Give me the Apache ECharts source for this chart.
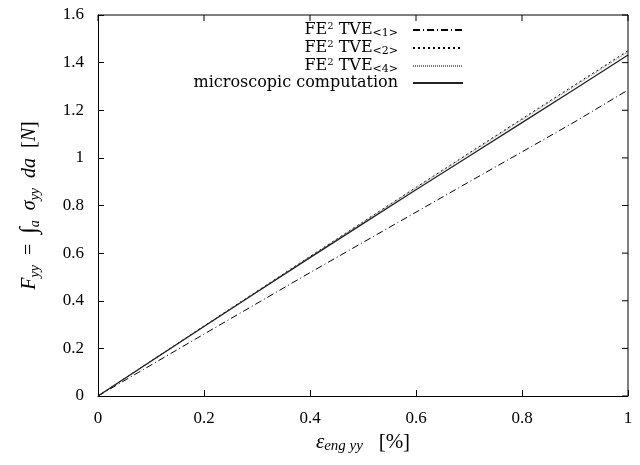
<!DOCTYPE html>
<html>
<head>
<meta charset="utf-8">
<script src="https://cdn.jsdelivr.net/npm/echarts@6/dist/echarts.min.js"></script>
<style>
  html, body { margin: 0; padding: 0; background: #fff; }
  #root { width: 640px; height: 465px; }
</style>
</head>
<body>
<div id="root"></div>
<script>
// strain [%]
const strain = [0, 0.1, 0.2, 0.3, 0.4, 0.5, 0.6, 0.7, 0.8, 0.9, 1.0];
// force [N]
const tve1 = [0, 0.130, 0.260, 0.389, 0.518, 0.645, 0.772, 0.899, 1.025, 1.152, 1.285];
const tve2 = [0, 0.147, 0.294, 0.440, 0.586, 0.731, 0.876, 1.020, 1.164, 1.307, 1.450];
const tve4 = [0, 0.147, 0.293, 0.439, 0.585, 0.730, 0.874, 1.017, 1.160, 1.302, 1.445];
const micro = [0, 0.146, 0.292, 0.437, 0.581, 0.724, 0.866, 1.007, 1.148, 1.289, 1.432];
const xTicks = [0, 0.2, 0.4, 0.6, 0.8, 1];
const yTicks = [0, 0.2, 0.4, 0.6, 0.8, 1, 1.2, 1.4, 1.6];

const serif = '"Liberation Serif", "DejaVu Serif", serif';
const wide = '"DejaVu Serif", "Liberation Serif", serif';

const pairs = ys => strain.map((x, i) => [x, ys[i]]);
const tickFmt = v => String(+v.toFixed(1));

const legendRich = {
  n: { fontFamily: wide, fontSize: 16, color: '#000', lineHeight: 18 },
  sup: { fontFamily: wide, fontSize: 10, color: '#000', verticalAlign: 'top', lineHeight: 10 },
  sub: { fontFamily: wide, fontSize: 11, color: '#000', verticalAlign: 'bottom', lineHeight: 11 }
};

const legendName = {
  'TVE1': '{n|FE}{sup|2}{n| TVE}{sub|<1>}',
  'TVE2': '{n|FE}{sup|2}{n| TVE}{sub|<2>}',
  'TVE4': '{n|FE}{sup|2}{n| TVE}{sub|<4>}',
  'micro': '{n|microscopic computation}'
};

// closed frame with mirrored inward ticks, placed through the axes' scales
const renderFrame = (params, api) => {
  const xMin = xTicks[0], xMax = xTicks[xTicks.length - 1];
  const yMin = yTicks[0], yMax = yTicks[yTicks.length - 1];
  const lo = api.coord([xMin, yMin]);
  const hi = api.coord([xMax, yMax]);
  const stroke = { stroke: '#000', lineWidth: 1, fill: null };
  const children = [{
    type: 'polyline',
    shape: { points: [[lo[0], hi[1]], [hi[0], hi[1]], [hi[0], lo[1]]] },
    style: stroke
  }];
  xTicks.forEach(t => {
    const p = api.coord([t, yMax]);
    children.push({ type: 'line', shape: { x1: p[0], y1: p[1], x2: p[0], y2: p[1] + 6 }, style: stroke });
  });
  yTicks.forEach(t => {
    const p = api.coord([xMax, t]);
    children.push({ type: 'line', shape: { x1: p[0], y1: p[1], x2: p[0] - 6, y2: p[1] }, style: stroke });
  });
  return { type: 'group', children };
};

const chart = echarts.init(document.getElementById('root'));
chart.setOption({
  animation: false,
  grid: { left: 98, right: 12, top: 15, bottom: 69 },
  legend: {
    top: 16,
    right: 171,
    orient: 'vertical',
    align: 'right',
    itemWidth: 50,
    itemHeight: 10,
    itemGap: 0,
    data: ['TVE1', 'TVE2', 'TVE4', 'micro'],
    formatter: name => legendName[name],
    itemStyle: { color: 'rgba(0,0,0,0)', borderWidth: 0, opacity: 0 },
    textStyle: { rich: legendRich, padding: [0, 10, 0, 0] }
  },
  xAxis: {
    type: 'value', min: 0, max: 1, interval: 0.2,
    name: '{e|ε}{s|eng}{t| yy}{n|   [%]}',
    nameLocation: 'middle', nameGap: 35,
    nameTextStyle: {
      rich: {
        e: { fontFamily: serif, fontStyle: 'italic', fontSize: 21, color: '#000', lineHeight: 22 },
        s: { fontFamily: serif, fontStyle: 'italic', fontSize: 15, color: '#000', verticalAlign: 'bottom', lineHeight: 15 },
        t: { fontFamily: serif, fontStyle: 'italic', fontSize: 15, color: '#000', verticalAlign: 'bottom', lineHeight: 15, padding: [4, 0, 0, 0] },
        n: { fontFamily: serif, fontSize: 21, color: '#000', lineHeight: 22 }
      }
    },
    axisLine: { onZero: false, lineStyle: { color: '#000', width: 1 } },
    axisTick: { inside: true, length: 6, lineStyle: { color: '#000' } },
    axisLabel: { margin: 14, fontFamily: serif, fontSize: 17, color: '#000', formatter: tickFmt },
    splitLine: { show: false }
  },
  yAxis: {
    type: 'value', min: 0, max: 1.6, interval: 0.2,
    name: '{f|F}{s|yy}{n|  =  }{i|∫}{s|a}{g|  σ}{s|yy}{f|  da}{n|  [}{f|N}{n|]}',
    nameLocation: 'middle', nameGap: 56,
    nameRotate: 90,
    nameTextStyle: {
      rich: {
        f: { fontFamily: serif, fontStyle: 'italic', fontSize: 20, color: '#000', lineHeight: 24 },
        g: { fontFamily: serif, fontStyle: 'italic', fontSize: 20, color: '#000', lineHeight: 24 },
        n: { fontFamily: serif, fontSize: 20, color: '#000', lineHeight: 24 },
        i: { fontFamily: serif, fontSize: 24, color: '#000', lineHeight: 24 },
        s: { fontFamily: serif, fontStyle: 'italic', fontSize: 14, color: '#000', verticalAlign: 'bottom', lineHeight: 14 }
      }
    },
    axisLine: { onZero: false, lineStyle: { color: '#000', width: 1 } },
    axisTick: { inside: true, length: 6, lineStyle: { color: '#000' } },
    axisLabel: { margin: 14, fontFamily: serif, fontSize: 17, color: '#000', formatter: tickFmt },
    splitLine: { show: false }
  },
  series: [
    {
      name: 'TVE1', type: 'line', data: pairs(tve1), showSymbol: false, symbol: 'none',
      lineStyle: { color: '#000', width: 1, type: [7, 3, 1, 3] }, itemStyle: { color: '#000' }
    },
    {
      name: 'TVE2', type: 'line', data: pairs(tve2), showSymbol: false, symbol: 'none',
      lineStyle: { color: '#000', width: 1, type: [2, 3] }, itemStyle: { color: '#000' }
    },
    {
      name: 'TVE4', type: 'line', data: pairs(tve4), showSymbol: false, symbol: 'none',
      lineStyle: { color: '#777', width: 1, type: [1, 1] }, itemStyle: { color: '#777' }
    },
    {
      name: 'micro', type: 'line', data: pairs(micro), showSymbol: false, symbol: 'none',
      lineStyle: { color: '#222', width: 1.3, type: 'solid' }, itemStyle: { color: '#222' }
    },
    {
      name: 'frame', type: 'custom', silent: true, clip: false, z: 6,
      data: [[xTicks[0], yTicks[0]]],
      renderItem: renderFrame
    }
  ]
});
</script>
</body>
</html>
